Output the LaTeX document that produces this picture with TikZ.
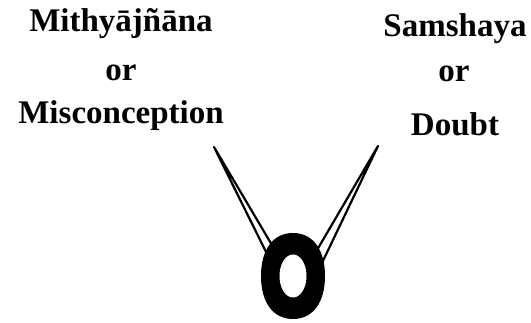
\documentclass[tikz,border=0pt]{standalone}
\usepackage{fontspec}
\setmainfont{Liberation Serif}

\tikzset{
  lbl/.style={anchor=base, inner sep=0pt, font=\bfseries\fontsize{33}{38}\selectfont},
  spike/.style={draw=black, fill=white, line width=2.2pt, line join=round, line cap=round}
}

\begin{document}
\begin{tikzpicture}[x=1pt, y=-1pt]
\useasboundingbox (0,0) rectangle (531,323);

\node[lbl] (mithya) at (121,32) {Mithyājñāna};
\node[lbl] (orleft) at (121,81) {or};
\node[lbl] (miscon) at (121,124) {Misconception};

\node[lbl] (samshaya) at (455,37) {Samshaya};
\node[lbl] (orright) at (454,82) {or};
\node[lbl] (doubt) at (455,136) {Doubt};

\coordinate (ring) at (293,276);
\coordinate (tipL) at (214,147);
\coordinate (tipR) at (378,146);

\draw[spike] (tipL) -- (272.5,265) -- (282,262) -- cycle;
\draw[spike] (tipR) -- (321,265) -- (310,262) -- cycle;

\begin{scope}[shift={(ring)}]
\fill[black] (32,0) .. controls (32,26.7) and (19.8,43) .. (0,43)
  .. controls (-19.8,43) and (-32,26.7) .. (-32,0)
  .. controls (-32,-26.7) and (-19.8,-43) .. (0,-43)
  .. controls (19.8,-43) and (32,-26.7) .. (32,0) -- cycle;
\fill[white] (0,0) ellipse [x radius=13.5, y radius=21.5];
\end{scope}
\end{tikzpicture}
\end{document}
